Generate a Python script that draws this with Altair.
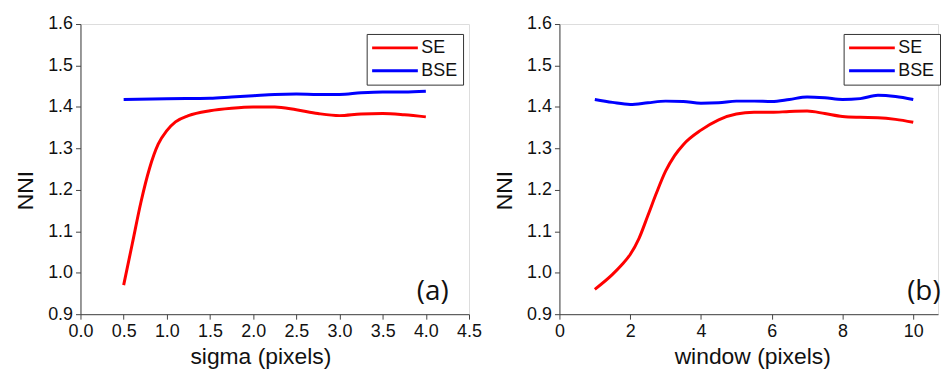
import altair as alt
import pandas as pd

# ---------------- data ----------------
series_names = ["SE", "BSE"]
series_colors = ["#ff0000", "#0000ff"]

sigma_se_x = [0.5, 0.6, 0.7, 0.8, 0.9, 1.0, 1.1, 1.25, 1.5, 1.75, 2.0, 2.25, 2.5, 2.75, 3.0, 3.25, 3.5, 3.75, 4.0]
sigma_se_y = [0.970, 1.070, 1.170, 1.252, 1.310, 1.343, 1.364, 1.379, 1.391, 1.397, 1.400, 1.400, 1.393, 1.384,
              1.379, 1.383, 1.384, 1.381, 1.376]
sigma_bse_x = [0.5, 1.0, 1.5, 1.75, 2.0, 2.25, 2.5, 2.75, 3.0, 3.25, 3.5, 3.75, 4.0]
sigma_bse_y = [1.418, 1.420, 1.421, 1.424, 1.427, 1.430, 1.431, 1.430, 1.430, 1.434, 1.436, 1.436, 1.438]

window_se_x = [1, 1.5, 1.75, 2, 2.25, 2.5, 2.75, 3, 3.25, 3.5, 4, 4.5, 5, 5.5, 6, 6.5, 7, 7.5, 8, 8.5, 9, 9.5, 10]
window_se_y = [0.960, 0.996, 1.018, 1.044, 1.083, 1.138, 1.194, 1.245, 1.282, 1.309, 1.344, 1.369, 1.383, 1.387,
               1.387, 1.389, 1.390, 1.384, 1.377, 1.375, 1.374, 1.370, 1.363]
window_bse_x = [1, 1.5, 2, 2.5, 3, 3.5, 4, 4.5, 5, 5.5, 6, 6.5, 7, 7.5, 8, 8.5, 9, 9.5, 10]
window_bse_y = [1.418, 1.411, 1.406, 1.410, 1.414, 1.413, 1.409, 1.410, 1.414, 1.414, 1.413, 1.418, 1.424,
                1.422, 1.418, 1.420, 1.428, 1.425, 1.418]

# axis tick values (major + minor)
sigma_ticks = [0.0, 0.25, 0.5, 0.75, 1.0, 1.25, 1.5, 1.75, 2.0, 2.25, 2.5, 2.75, 3.0, 3.25, 3.5, 3.75, 4.0, 4.25, 4.5]
window_ticks = [0, 1, 2, 3, 4, 5, 6, 7, 8, 9, 10]
nni_ticks = [0.9, 0.95, 1.0, 1.05, 1.1, 1.15, 1.2, 1.25, 1.3, 1.35, 1.4, 1.45, 1.5, 1.55, 1.6]

panel_labels = ["(a)", "(b)"]
label_x = [4.08, 10.3]
label_y = [0.953, 0.953]

# ---------------- tables ----------------
df_a = pd.concat([
    pd.DataFrame({"x": sigma_se_x, "y": sigma_se_y, "s": "SE"}),
    pd.DataFrame({"x": sigma_bse_x, "y": sigma_bse_y, "s": "BSE"}),
])
df_b = pd.concat([
    pd.DataFrame({"x": window_se_x, "y": window_se_y, "s": "SE"}),
    pd.DataFrame({"x": window_bse_x, "y": window_bse_y, "s": "BSE"}),
])

FONT = "Liberation Sans"
AXIS_COLOR = "#444444"

y_major = "abs(datum.value*10 - round(datum.value*10)) < 0.01"
xa_major = "abs(datum.value*2 - round(datum.value*2)) < 0.01"
xb_major = "datum.value % 2 === 0"


def axis(values, major, fmt, title, title_x=None, title_y=None, title_pad=6):
    kw = dict(
        values=values,
        title=title,
        labelExpr=f"({major}) ? format(datum.value, '{fmt}') : ''",
        tickSize={"condition": {"test": major, "value": 5}, "value": 3},
        labelOverlap=False,
        labelFlush=False,
        grid=False,
        domainColor=AXIS_COLOR,
        tickColor=AXIS_COLOR,
        labelFont=FONT,
        labelFontSize=18,
        labelColor="#111111",
        labelPadding=3,
        titleFont=FONT,
        titleFontSize=23,
        titleFontWeight="normal",
        titleColor="#111111",
        titlePadding=title_pad,
    )
    if title_x is not None:
        kw["titleX"] = title_x
    if title_y is not None:
        kw["titleY"] = title_y
    return alt.Axis(**kw)


color_scale = alt.Scale(domain=series_names, range=series_colors)


def panel(df, xdom, xticks, xmajor, xfmt, xtitle, title_x, w, legend_x, idx):
    legend = alt.Legend(
        title=None,
        orient="none",
        legendX=legend_x,
        legendY=10,
        symbolType="M-4.25,0H18.75",
        symbolSize=16,
        symbolStrokeWidth=3,
        labelOffset=32,
        labelFont=FONT,
        labelFontSize=18,
        labelColor="#111111",
        strokeColor="#333333",
        fillColor="white",
        padding=5,
        rowPadding=5,
        cornerRadius=0,
    )
    lines = alt.Chart(df).mark_line(strokeWidth=3, interpolate="monotone").encode(
        x=alt.X("x:Q", scale=alt.Scale(domain=xdom, nice=False, zero=False),
                axis=axis(xticks, xmajor, xfmt, xtitle, title_x=title_x, title_pad=6)),
        y=alt.Y("y:Q", scale=alt.Scale(domain=[0.9, 1.6], nice=False, zero=False),
                axis=axis(nni_ticks, y_major, ".1f", "NNI", title_y=167, title_pad=10)),
        color=alt.Color("s:N", scale=color_scale, sort=series_names, legend=legend),
    )
    lab = alt.Chart(pd.DataFrame({"x": [label_x[idx]], "y": [label_y[idx]], "t": [panel_labels[idx]]})).mark_text(
        font="Open Sans", fontSize=28, color="#111111", align="center", baseline="middle"
    ).encode(x="x:Q", y="y:Q", text="t:N")
    return alt.layer(lines, lab).properties(width=w, height=292)


left = panel(df_a, [0, 4.5], sigma_ticks, xa_major, ".1f", "sigma (pixels)", 181, 391, 288, 0)
right = panel(df_b, [0, 10.7], window_ticks, xb_major, "d", "window (pixels)", 194, 381, 286, 1)

chart = alt.hconcat(left, right, spacing=10).resolve_scale(color="independent").properties(
    padding={"left": 14, "top": 13, "right": 0, "bottom": 0}
).configure_view(stroke=AXIS_COLOR, strokeWidth=1).configure(background="white")

chart.save("out.html", embed_options={"renderer": "svg", "actions": False})
